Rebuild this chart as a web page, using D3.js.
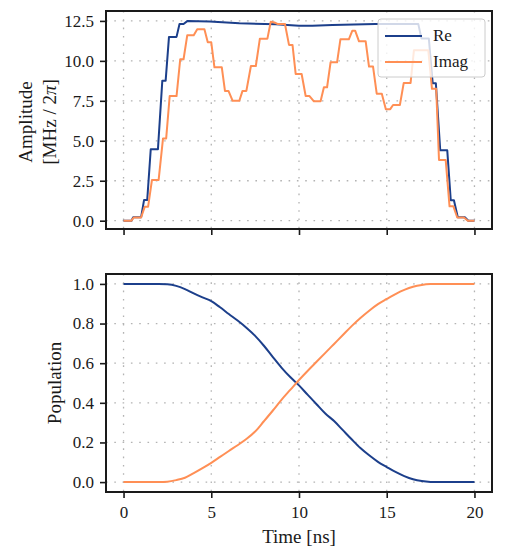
<!DOCTYPE html>
<html>
<head>
<meta charset="utf-8">
<script src="https://cdn.jsdelivr.net/npm/d3@7"></script>
<style>
  html, body { margin: 0; padding: 0; background: #fff; }
  svg text { font-family: "Liberation Serif", "DejaVu Serif", serif; fill: #1a1a1a; }
</style>
</head>
<body>
<svg id="chart" width="506" height="560"></svg>
<script>
// ---------- DATA ----------
const seriesNames = ["Re", "Imag"];
const xTicks = [0, 5, 10, 15, 20];
const ampTicks = [0.0, 2.5, 5.0, 7.5, 10.0, 12.5];
const popTicks = [0.0, 0.2, 0.4, 0.6, 0.8, 1.0];

// Amplitude, real part (time [ns], value [MHz/2pi])
const reT = [0, 0.45, 0.55, 1.0, 1.17, 1.35, 1.55, 1.96, 2.21, 2.4, 2.59, 3.02, 3.19, 3.42, 3.65, 4.9, 6.6, 8.68, 10.0, 10.76, 11.9, 14.35, 15.67, 16.58, 16.8, 16.98, 17.4, 17.62, 17.8, 18.05, 18.45, 18.65, 18.83, 19.05, 19.45, 19.65, 20.0];
const reV = [0, 0, 0.21, 0.21, 1.3, 1.3, 4.47, 4.47, 8.76, 8.76, 11.5, 11.5, 12.31, 12.31, 12.5, 12.46, 12.35, 12.29, 12.19, 12.19, 12.25, 12.31, 12.31, 12.31, 12.3, 11.4, 11.4, 8.6, 8.6, 4.4, 4.4, 1.28, 1.28, 0.22, 0.22, 0, 0];

// Amplitude, imaginary part
const imT = [0, 0.45, 0.58, 1.0, 1.21, 1.4, 1.62, 2.0, 2.25, 2.43, 2.63, 3.02, 3.23, 3.42, 3.63, 4.0, 4.2, 4.61, 4.8, 5.0, 5.18, 5.6, 5.78, 5.98, 6.22, 6.6, 6.78, 7.0, 7.26, 7.54, 7.77, 8.2, 8.39, 8.6, 8.77, 9.2, 9.43, 9.63, 9.81, 10.15, 10.38, 10.6, 10.85, 11.23, 11.42, 11.6, 11.8, 12.17, 12.36, 12.84, 13.04, 13.2, 13.42, 13.8, 13.99, 14.22, 14.43, 14.72, 14.95, 15.2, 15.36, 15.75, 15.97, 16.36, 16.55, 17.37, 17.58, 17.82, 17.98, 18.36, 18.58, 18.8, 19.02, 19.4, 19.62, 20.0];
const imV = [0, 0, 0.2, 0.2, 0.88, 0.88, 2.55, 2.55, 5.15, 5.15, 7.8, 7.8, 10.1, 10.1, 11.6, 11.6, 11.98, 11.98, 11.16, 11.16, 9.6, 9.6, 8.12, 8.12, 7.5, 7.5, 8.12, 8.12, 9.68, 9.68, 11.39, 11.39, 12.45, 12.4, 12.31, 12.31, 11.0, 11.0, 9.18, 9.18, 7.8, 7.8, 7.47, 7.47, 8.35, 8.35, 9.91, 9.91, 11.35, 11.35, 11.89, 11.89, 11.22, 11.22, 9.64, 9.64, 7.95, 7.95, 6.98, 6.98, 7.24, 7.24, 8.62, 8.62, 10.66, 10.66, 8.25, 8.25, 3.8, 3.8, 0.9, 0.9, 0.2, 0.2, 0, 0];

// Population of the two states
const popT = [0, 1, 2, 2.5, 3, 3.5, 4, 4.5, 5, 5.5, 6, 6.5, 7, 7.5, 8, 8.5, 9, 9.5, 10, 10.5, 11, 11.5, 12, 12.5, 13, 13.5, 14, 14.5, 15, 15.5, 16, 16.5, 17, 17.5, 18, 19, 20];
const popGround = [1.0, 1.0, 1.0, 0.998, 0.99, 0.974, 0.952, 0.932, 0.913, 0.882, 0.848, 0.815, 0.779, 0.738, 0.688, 0.632, 0.578, 0.53, 0.488, 0.44, 0.393, 0.346, 0.308, 0.262, 0.216, 0.172, 0.135, 0.102, 0.076, 0.051, 0.03, 0.014, 0.005, 0.001, 0.0, 0.0, 0.0];
const popExcited = [0.0, 0.0, 0.0, 0.002, 0.01, 0.022, 0.045, 0.07, 0.097, 0.127, 0.157, 0.186, 0.217, 0.255, 0.307, 0.36, 0.415, 0.465, 0.515, 0.562, 0.607, 0.652, 0.697, 0.742, 0.787, 0.828, 0.865, 0.898, 0.924, 0.949, 0.97, 0.986, 0.995, 0.999, 1.0, 1.0, 1.0];

const colors = ["#1c3f8b", "#ff8f55"];

// ---------- LAYOUT ----------
const svg = d3.select("#chart");
const X0 = 106, X1 = 492;
const topBox = { y0: 11, y1: 229 };
const botBox = { y0: 274, y1: 492 };

const x = d3.scaleLinear().domain([-1, 21]).range([X0, X1]);
const yAmp = d3.scaleLinear().domain([-0.52, 13.12]).range([topBox.y1, topBox.y0]);
const yPop = d3.scaleLinear().domain([-0.05, 1.05]).range([botBox.y1, botBox.y0]);

const FONT_TICK = 17, FONT_LABEL = 19;
const SERIF = '"Liberation Serif", "DejaVu Serif", serif';

function panel(y, box, yTickVals, yFmt, showXLabels) {
  const g = svg.append("g");
  const grid = g.append("g").attr("stroke", "#b3b3b3").attr("stroke-width", 1.3)
    .attr("stroke-dasharray", "1.6,6.7").attr("fill", "none");
  yTickVals.forEach(v => grid.append("line")
    .attr("x1", X0).attr("x2", X1).attr("y1", y(v)).attr("y2", y(v)));
  xTicks.forEach(v => grid.append("line")
    .attr("x1", x(v)).attr("x2", x(v)).attr("y1", box.y0).attr("y2", box.y1));

  const ax = g.append("g").attr("transform", `translate(0,${box.y1})`)
    .call(d3.axisBottom(x).tickValues(xTicks).tickSize(6).tickPadding(8)
      .tickFormat(showXLabels ? d3.format("d") : () => ""));
  const ay = g.append("g").attr("transform", `translate(${X0},0)`)
    .call(d3.axisLeft(y).tickValues(yTickVals).tickSize(6).tickPadding(6).tickFormat(yFmt));
  [ax, ay].forEach(a => {
    a.attr("font-family", null).style("font-family", SERIF);
    a.select(".domain").remove();
    a.selectAll(".tick line").attr("stroke", "#1a1a1a").attr("stroke-width", 1.6);
    a.selectAll(".tick text").attr("font-size", FONT_TICK)
      .style("font-family", SERIF).attr("fill", "#1a1a1a");
  });
  return g;
}

function frame(box) {
  svg.append("rect").attr("x", X0).attr("y", box.y0)
    .attr("width", X1 - X0).attr("height", box.y1 - box.y0)
    .attr("fill", "none").attr("stroke", "#1a1a1a").attr("stroke-width", 2);
}

// ---------- TOP PANEL ----------
panel(yAmp, topBox, ampTicks, d3.format(".1f"), false);
const lineAmp = d3.line().x(d => x(d[0])).y(d => yAmp(d[1]));
const reData = reT.map((t, i) => [t, reV[i]]);
const imData = imT.map((t, i) => [t, imV[i]]);
svg.append("path").datum(reData).attr("d", lineAmp)
  .attr("fill", "none").attr("stroke", colors[0]).attr("stroke-width", 2).attr("stroke-linejoin", "round");
svg.append("path").datum(imData).attr("d", lineAmp)
  .attr("fill", "none").attr("stroke", colors[1]).attr("stroke-width", 2).attr("stroke-linejoin", "round");
frame(topBox);

// legend
const lg = svg.append("g");
lg.append("rect").attr("x", 378).attr("y", 19).attr("width", 107).attr("height", 58)
  .attr("rx", 3).attr("fill", "#fff").attr("fill-opacity", 0.8)
  .attr("stroke", "#cccccc").attr("stroke-width", 1);
seriesNames.forEach((name, i) => {
  const yy = 36 + i * 26;
  lg.append("line").attr("x1", 385).attr("x2", 422).attr("y1", yy).attr("y2", yy)
    .attr("stroke", colors[i]).attr("stroke-width", 2);
  lg.append("text").attr("x", 433).attr("y", yy + 5).attr("font-size", FONT_TICK).text(name);
});

// y label (two lines)
svg.append("text").attr("transform", "translate(25,122) rotate(-90)")
  .attr("text-anchor", "middle").attr("dy", "0.35em").attr("font-size", FONT_LABEL).text("Amplitude");
const l2 = svg.append("text").attr("transform", "translate(49,122) rotate(-90)")
  .attr("text-anchor", "middle").attr("dy", "0.35em").attr("font-size", FONT_LABEL);
l2.append("tspan").text("[MHz / 2");
l2.append("tspan").attr("font-style", "italic").text("π");
l2.append("tspan").text("]");

// ---------- BOTTOM PANEL ----------
panel(yPop, botBox, popTicks, d3.format(".1f"), true);
const linePop = d3.line().x(d => x(d[0])).y(d => yPop(d[1])).curve(d3.curveMonotoneX);
svg.append("path").datum(popT.map((t, i) => [t, popGround[i]])).attr("d", linePop)
  .attr("fill", "none").attr("stroke", colors[0]).attr("stroke-width", 2);
svg.append("path").datum(popT.map((t, i) => [t, popExcited[i]])).attr("d", linePop)
  .attr("fill", "none").attr("stroke", colors[1]).attr("stroke-width", 2);
frame(botBox);

svg.append("text").attr("transform", "translate(54,383) rotate(-90)")
  .attr("text-anchor", "middle").attr("dy", "0.35em").attr("font-size", FONT_LABEL).text("Population");
svg.append("text").attr("x", 299).attr("y", 543)
  .attr("text-anchor", "middle").attr("font-size", FONT_LABEL).text("Time [ns]");
</script>
</body>
</html>
